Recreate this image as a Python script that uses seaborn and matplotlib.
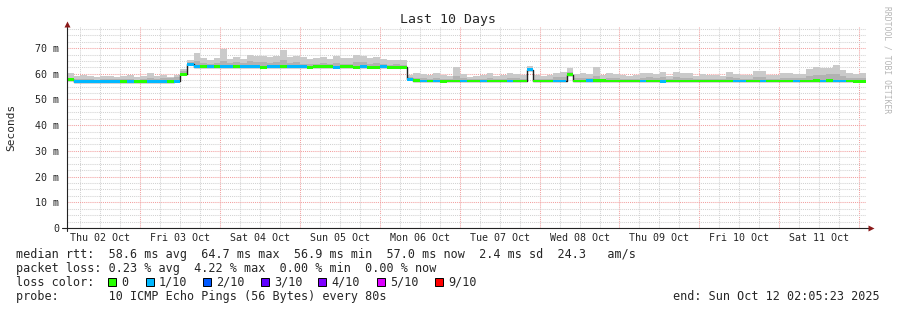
import numpy as np
import pandas as pd
import matplotlib
matplotlib.use("Agg")
import matplotlib.pyplot as plt
import matplotlib.dates as mdates
import matplotlib.transforms as mtrans
from matplotlib.ticker import MultipleLocator, NullFormatter
from matplotlib.patches import Rectangle
import seaborn as sns

# ---------------- data (2-hour bins, values in milliseconds) ----------------
start_time = "2025-10-02 02:05:23"
end_time = "2025-10-12 02:05:23"
bin_freq = "2h"

median_ms = [
    57.6, 57.0, 57.0, 57.0, 56.9, 57.0, 57.0, 57.0, 57.0, 56.9,
    57.0, 57.0, 57.0, 57.0, 56.9, 57.0, 57.1, 59.9, 63.8, 62.7,
    62.7, 62.8, 62.7, 62.7, 62.7, 62.8, 62.7, 62.7, 62.7, 62.6,
    62.7, 62.7, 62.8, 62.7, 62.7, 62.7, 62.6, 62.7, 62.7, 62.7,
    62.6, 62.7, 62.7, 62.6, 62.7, 62.6, 62.6, 62.7, 62.6, 62.6,
    62.6, 57.8, 57.3, 57.2, 57.2, 57.2, 57.1, 57.2, 57.2, 57.2,
    57.2, 57.2, 57.2, 57.2, 57.2, 57.2, 57.2, 57.2, 57.2, 61.5,
    57.2, 57.2, 57.2, 57.2, 57.2, 59.6, 57.2, 57.2, 57.3, 57.3,
    57.3, 57.2, 57.2, 57.2, 57.2, 57.2, 57.2, 57.2, 57.2, 57.1,
    57.2, 57.2, 57.2, 57.2, 57.2, 57.2, 57.2, 57.2, 57.2, 57.2,
    57.2, 57.2, 57.2, 57.2, 57.2, 57.2, 57.2, 57.2, 57.2, 57.2,
    57.2, 57.2, 57.3, 57.2, 57.3, 57.2, 57.2, 57.2, 57.1, 57.1,
]

smoke_max_ms = [
    60.4, 59.0, 59.7, 59.2, 58.8, 59.0, 59.3, 58.9, 59.1, 59.4,
    58.7, 59.0, 60.2, 59.1, 59.6, 58.8, 59.5, 62.0, 65.5, 67.9,
    66.0, 65.5, 66.3, 69.7, 65.8, 66.4, 65.9, 67.2, 66.8, 67.0,
    66.5, 66.8, 69.2, 66.5, 67.0, 66.4, 65.6, 66.0, 66.6, 65.9,
    66.9, 66.2, 66.0, 67.3, 67.0, 66.2, 66.5, 65.8, 65.3, 65.4,
    65.2, 59.5, 60.2, 59.8, 59.4, 60.5, 59.6, 59.2, 62.5, 59.8,
    58.9, 59.3, 59.6, 60.3, 59.2, 59.5, 60.4, 60.0, 59.4, 63.0,
    59.7, 59.3, 59.5, 60.5, 60.6, 62.2, 59.8, 60.4, 59.9, 62.8,
    59.6, 60.3, 60.1, 59.5, 59.2, 59.4, 60.4, 60.5, 59.8, 60.8,
    59.3, 60.6, 60.4, 60.2, 59.3, 59.8, 59.4, 59.5, 59.2, 60.6,
    59.8, 59.4, 59.5, 61.0, 61.2, 59.6, 59.4, 60.3, 60.2, 59.8,
    60.1, 61.8, 62.6, 62.2, 62.4, 63.6, 61.4, 60.3, 60.0, 60.2,
]

smoke_mid_ms = [
    58.3, 57.8, 58.0, 57.9, 57.7, 57.8, 58.0, 57.8, 57.9, 58.1,
    57.7, 57.9, 58.4, 58.0, 58.3, 58.5, 58.6, 61.0, 64.6, 64.8,
    64.2, 64.0, 64.3, 65.0, 64.1, 64.5, 64.2, 64.8, 64.6, 64.7,
    64.3, 64.6, 65.2, 64.2, 64.5, 64.0, 63.8, 63.9, 64.2, 63.8,
    64.3, 63.9, 63.8, 64.5, 64.4, 64.0, 64.1, 63.9, 63.6, 63.7,
    63.6, 58.6, 58.3, 58.2, 58.0, 58.5, 58.1, 57.9, 59.0, 58.2,
    57.8, 57.9, 58.1, 58.4, 57.9, 58.0, 58.5, 58.3, 58.0, 62.2,
    58.1, 57.9, 58.0, 58.6, 58.7, 60.6, 58.3, 58.5, 58.2, 59.2,
    58.1, 58.4, 58.3, 58.0, 57.9, 58.0, 58.5, 58.6, 58.2, 58.6,
    57.9, 58.6, 58.5, 58.3, 57.9, 58.1, 57.9, 58.0, 57.9, 58.6,
    58.2, 58.0, 58.0, 58.8, 58.9, 58.1, 58.0, 58.4, 58.4, 58.2,
    58.4, 59.2, 59.6, 59.5, 59.8, 60.0, 59.0, 58.5, 58.3, 58.4,
]

# loss class per bin: 0 -> "0", 1 -> "1/10"
loss_class = [
    0, 1, 1, 1, 1, 1, 1, 1, 0, 1,
    0, 0, 1, 1, 1, 0, 1, 0, 1, 1,
    0, 1, 0, 1, 1, 0, 1, 1, 1, 0,
    1, 1, 0, 1, 1, 1, 0, 0, 0, 0,
    1, 0, 0, 0, 1, 0, 0, 1, 0, 0,
    0, 1, 0, 1, 0, 1, 0, 0, 0, 1,
    0, 0, 1, 0, 0, 0, 1, 0, 0, 1,
    0, 0, 0, 1, 1, 0, 0, 0, 1, 0,
    0, 0, 0, 0, 0, 0, 1, 0, 0, 1,
    0, 0, 0, 0, 0, 0, 0, 0, 0, 0,
    1, 1, 0, 0, 1, 0, 0, 0, 0, 1,
    0, 0, 0, 1, 0, 1, 1, 0, 0, 0,
]

loss_labels = ["0", "1/10", "2/10", "3/10", "4/10", "5/10", "9/10"]
loss_colors = ["#26ff00", "#00b8ff", "#0059ff", "#5e00ff", "#7e00ff", "#dd00ff", "#ff0000"]

y_major = [0, 10, 20, 30, 40, 50, 60, 70]
y_labels = ["0", "10 m", "20 m", "30 m", "40 m", "50 m", "60 m", "70 m"]

legend_lines = [
    "median rtt:  58.6 ms avg  64.7 ms max  56.9 ms min  57.0 ms now  2.4 ms sd  24.3   am/s",
    "packet loss: 0.23 % avg  4.22 % max  0.00 % min  0.00 % now",
]
probe_text = "probe:       10 ICMP Echo Pings (56 Bytes) every 80s"
end_text = "end: Sun Oct 12 02:05:23 2025"

# ---------------- figure ----------------
sns.set_style("white")
plt.rcParams["font.family"] = ["DejaVu Sans Mono", "DejaVu Sans"]

W, H = 897, 310
fig = plt.figure(figsize=(W / 100, H / 100), dpi=100)
fig.patch.set_facecolor("white")
ax = fig.add_axes([67 / W, 1 - 228 / H, 799.2 / W, 201.5 / H])
ax.set_facecolor("white")

t0 = pd.Timestamp(start_time)
t1 = pd.Timestamp(end_time)
times = pd.date_range(t0, periods=len(median_ms), freq=bin_freq)
edges = pd.date_range(t0, periods=len(median_ms) + 1, freq=bin_freq)
bin_w = (times[1] - times[0]) / pd.Timedelta(days=1)

med = np.array(median_ms)
smax = np.array(smoke_max_ms)
smid = np.array(smoke_mid_ms)
med_e = np.append(med, med[-1])

# smoke
ax.fill_between(edges, med_e, np.append(smax, smax[-1]), step="post",
                color="#cacaca", lw=0, zorder=2)
ax.fill_between(edges, med_e, np.append(smid, smid[-1]), step="post",
                color="#b2b2b2", lw=0, zorder=2.1)

# median black line
df = pd.DataFrame({"t": edges, "median": med_e})
sns.lineplot(data=df, x="t", y="median", drawstyle="steps-post", color="#202020",
             linewidth=1.0, estimator=None, ax=ax, zorder=3, legend=False)

# loss-coloured median band
band_cols = [loss_colors[c] for c in loss_class]
ax.bar(times, 1.15, bottom=med - 0.575, width=bin_w, align="edge", color=band_cols,
       linewidth=0, antialiased=False, zorder=4)

# axes limits and grid
ax.set_xlim(t0, t1)
ax.set_ylim(0, 78.4)
ax.set_yticks(y_major)
ax.set_yticklabels(y_labels)
ax.yaxis.set_minor_locator(MultipleLocator(2.5))
ax.xaxis.set_major_locator(mdates.DayLocator())
ax.xaxis.set_minor_locator(mdates.HourLocator(byhour=[6, 12, 18]))
ax.xaxis.set_major_formatter(NullFormatter())
ax.set_xlabel("")
ax.set_ylabel("")

dots = (0, (1, 1))
ax.grid(which="major", color="#f2a0a0", linestyle=dots, linewidth=0.75)
ax.grid(which="minor", color="#d2d2d2", linestyle=dots, linewidth=0.75)
ax.set_axisbelow(True)

for s in ax.spines.values():
    s.set_visible(False)

ax.tick_params(axis="y", which="major", length=2, width=0.7, pad=3.5,
               labelsize=7.2, color="#444444", direction="out")
ax.tick_params(axis="y", which="minor", length=1.5, width=0.6, color="#666666",
               direction="out")
ax.tick_params(axis="x", which="both", length=1.5, width=0.6, color="#888888",
               direction="in")

# axis lines with arrows
ax.plot([0, 0], [-0.015, 1.0], transform=ax.transAxes, color="#222222", lw=0.8,
        clip_on=False, zorder=6)
ax.plot([-0.006, 1.004], [0, 0], transform=ax.transAxes, color="#222222", lw=0.8,
        clip_on=False, zorder=6)
ax.plot([0], [1.012], marker="^", ms=4.2, color="#8b1a1a", transform=ax.transAxes,
        clip_on=False, zorder=7, mec="none")
ax.plot([1.0055], [0], marker=">", ms=4.2, color="#8b1a1a", transform=ax.transAxes,
        clip_on=False, zorder=7, mec="none")

# day labels
blend = mtrans.blended_transform_factory(ax.transData, ax.transAxes)
day = t0.normalize()
while day < t1.normalize():
    noon = day + pd.Timedelta(hours=12)
    ax.text(mdates.date2num(noon), -9.7 / 201.5, noon.strftime("%a %d %b"),
            transform=blend, ha="center", va="center", fontsize=7.2)
    day += pd.Timedelta(days=1)

# title and axis label
fig.text(448 / W, 1 - 19 / H, "Last 10 Days", ha="center", va="center", fontsize=9.5)
fig.text(11 / W, 1 - 127 / H, "Seconds", rotation=90, ha="center", va="center",
         fontsize=8)
fig.text(887 / W, 1 - 60 / H, "RRDTOOL / TOBI OETIKER", rotation=270, ha="center",
         va="center", fontsize=5.8, color="#b5b5b5")

# legend text
fs = 8.45
row_y = [254.3, 268.3, 282.3, 296.5]
for txt, yy in zip(legend_lines, row_y[:2]):
    fig.text(16 / W, 1 - yy / H, txt, ha="left", va="center", fontsize=fs)
fig.text(16 / W, 1 - row_y[2] / H, "loss color:", ha="left", va="center", fontsize=fs)
sq_x = [108, 145.7, 203, 261, 318, 376.7, 435]
for sx, lab, col in zip(sq_x, loss_labels, loss_colors):
    fig.patches.append(Rectangle((sx / W, 1 - (row_y[2] + 4) / H), 8 / W, 8 / H,
                                 transform=fig.transFigure, facecolor=col,
                                 edgecolor="#000000", lw=0.7))
    fig.text((sx + 13) / W, 1 - row_y[2] / H, lab, ha="left", va="center", fontsize=fs)
fig.text(16 / W, 1 - row_y[3] / H, probe_text, ha="left", va="center", fontsize=fs)
fig.text(880 / W, 1 - row_y[3] / H, end_text, ha="right", va="center", fontsize=fs)

fig.savefig("out.png", dpi=100, facecolor="white")
